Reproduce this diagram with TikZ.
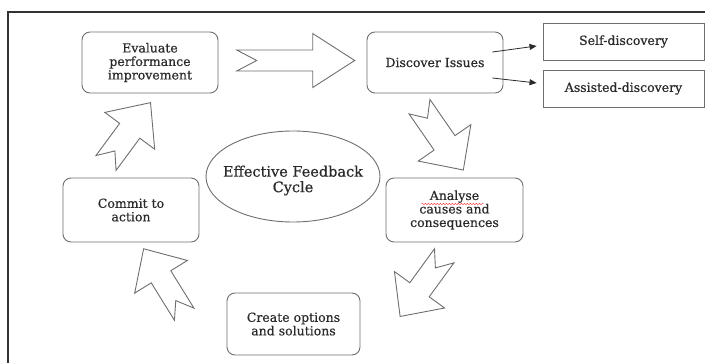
\documentclass[tikz,border=0pt]{standalone}
\usepackage{fontspec}
\setmainfont{DejaVu Serif}[FakeBold=0.6]
\usetikzlibrary{calc, positioning, arrows.meta, decorations.pathmorphing}

\definecolor{edge}{HTML}{6E6E6E}
\definecolor{ink}{HTML}{2A2A2A}

% notched block arrow: tail, angle, length, head length, head half width, shaft half width, notch
\newcommand{\notcharrow}[7]{%
  \draw[blockline, shift={(#1)}, rotate=#2]
    (0,#6) -- ({#3-#4},#6) -- ({#3-#4},#5) -- (#3,0) -- ({#3-#4},-#5)
    -- ({#3-#4},-#6) -- (0,-#6) -- (#7,0) -- cycle;}

\begin{document}
\begin{tikzpicture}[x=1pt, y=1pt,
  cyclebox/.style={draw=edge, line width=0.9pt, rounded corners=8pt, align=center,
    text=ink, font=\fontsize{12.5}{13.5}\selectfont, inner sep=2pt},
  sidebox/.style={draw=edge, line width=0.9pt, align=center, text=ink,
    font=\fontsize{12.5}{13.5}\selectfont, minimum width=161, minimum height=37},
  blockline/.style={draw=edge, line width=0.9pt, line join=miter},
  frame/.style={draw=black!80, line width=1.6pt}]
  \useasboundingbox (0,0) rectangle (705,362);
  \draw[frame] (8,-2) -- (8,350) -- (707,350);

  % boxes of the cycle
  \node[cyclebox, minimum width=136, minimum height=61] (evaluate) at (150,299.5) {Evaluate\\performance\\improvement};
  \node[cyclebox, minimum width=136, minimum height=61] (discover) at (435,299.5) {Discover Issues};
  \node[cyclebox, minimum width=137, minimum height=64] (analyse) at (454.5,152) {Analyse\\causes and\\consequences};
  \node[cyclebox, minimum width=133, minimum height=62] (create) at (293.5,38) {Create options\\and solutions};
  \node[cyclebox, minimum width=136, minimum height=64] (commit) at (131,152) {Commit to\\action};

  % ways of discovery
  \node[sidebox] (self) at (623.5,320.5) {Self-discovery};
  \node[sidebox] (assisted) at (623.5,273.5) {Assisted-discovery};
  \draw[ink, thick, -{Triangle[length=7pt, width=6pt]}] ($(discover.east)+(-11,10.5)$) -- ($(self.west)+(-6,-4.5)$);
  \draw[ink, thick, -{Triangle[length=7pt, width=6pt]}] ($(discover.east)+(-11,-15.5)$) -- ($(assisted.west)+(-6,5.5)$);

  % centre
  \node[text=ink, align=center, font=\fontsize{14.5}{15.5}\selectfont] (core) at (293,181.5) {Effective Feedback\\Cycle};
  \draw[edge, line width=0.9pt] ($(core)+(0,4)$) ellipse [x radius=87, y radius=45.5];

  % spell check mark
  \draw[red!80, decorate, decoration={snake, amplitude=0.8pt, segment length=3pt}]
    ($(analyse.center)+(-33,6)$) -- ($(analyse.center)+(29,6)$);

  % block arrows
  \notcharrow{236.7,301.5}{0}{118}{42}{27}{10.5}{20}
  \notcharrow{419.5,255.3}{-55.3}{77}{33}{32}{12.7}{14}
  \notcharrow{444.2,106.2}{-126}{75}{33}{31}{12}{15}
  \notcharrow{184.2,47.8}{121.8}{77}{33}{31}{11.5}{16}
  \notcharrow{106,199}{53.6}{75}{35}{31}{12.5}{15}
\end{tikzpicture}
\end{document}
